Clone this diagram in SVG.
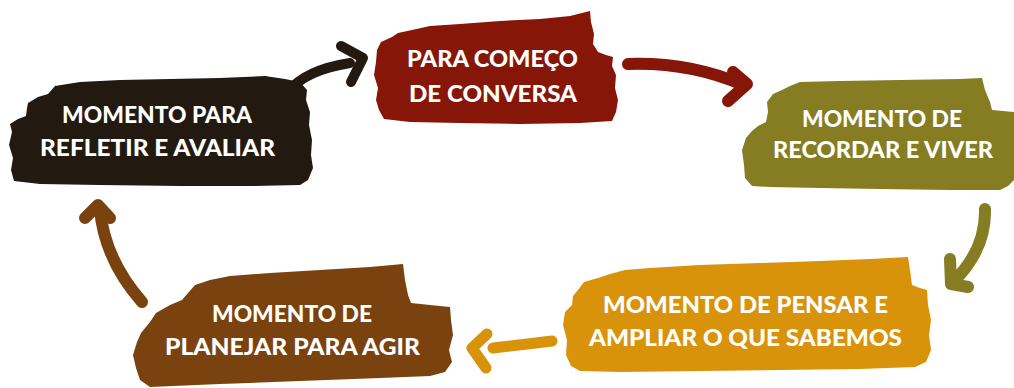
<svg xmlns="http://www.w3.org/2000/svg" width="1014" height="388" viewBox="0 0 1014 388">
<style>
.lbl{font-family:Lato,"Open Sans","Liberation Sans",sans-serif;font-weight:900;font-size:23px;fill:#ffffff;}
.arr{fill:none;stroke-linecap:round;stroke-linejoin:round;}
</style>
<rect width="1014" height="388" fill="#ffffff"/>
<g id="connectors">
  <g stroke="#221a10" class="arr" stroke-width="10">
    <path d="M288,92 Q305,70 350,63"/>
    <path d="M341,46 L363,58 L351,82"/>
  </g>
  <g stroke="#861708" class="arr" stroke-width="12">
    <path d="M628,64 Q690,62 743,85"/>
    <path d="M733,72 L747,84 L728,101"/>
  </g>
  <g stroke="#867c22" class="arr" stroke-width="12">
    <path d="M985,209 Q986,250 953,282"/>
    <path d="M950,259 L951,284 L968,287"/>
  </g>
  <g stroke="#d9930b" class="arr" stroke-width="11">
    <path d="M552,341 Q520,345 493,348"/>
    <path d="M487,334 L472,348 L486,368"/>
  </g>
  <g stroke="#7a420e" class="arr" stroke-width="12">
    <path d="M142,302 Q105,260 100,210"/>
    <path d="M85,218 L98,205 L110,218"/>
  </g>
</g>
<g id="node-comeco">
  <path fill="#861708" d="M377,50 L381,42 L392,37 L398,33 L412,30 L430,26 L460,24 L500,21 L540,19 L570,16 L590,11 L591,22 L594,34 L593,44 L598,52 L606,55 L613,57 L612,66 L616,75 L615,88 L618,100 L616,112 L612,121 L580,123 L520,124 L460,123 L410,122 L384,119 L379,110 L376,100 L378,88 L374,75 L376,62 Z"/>
  <text class="lbl" x="407" y="67" textLength="171" lengthAdjust="spacingAndGlyphs">PARA COMEÇO</text>
  <text class="lbl" x="409" y="102" textLength="168" lengthAdjust="spacingAndGlyphs">DE CONVERSA</text>
</g>
<g id="node-refletir">
  <path fill="#221a10" d="M28,103 L38,97 L48,94 L55,86 L80,82 L120,80 L170,79 L220,78 L265,76 L285,79 L300,82 L307,90 L306,100 L310,112 L309,125 L312,140 L311,155 L313,168 L308,180 L300,185 L250,186 L180,186 L100,185 L40,184 L14,181 L11,170 L13,158 L9,145 L12,132 L10,124 L18,119 L26,116 L27,108 Z"/>
  <text class="lbl" x="62" y="123" textLength="190" lengthAdjust="spacingAndGlyphs">MOMENTO PARA</text>
  <text class="lbl" x="40" y="156" textLength="235" lengthAdjust="spacingAndGlyphs">REFLETIR E AVALIAR</text>
</g>
<g id="node-recordar">
  <path fill="#867c22" d="M767,102 L773,94 L782,90 L790,86 L800,82 L840,81 L900,80 L960,79 L982,78 L985,90 L990,102 L992,110 L1014,112 L1014,180 L1008,186 L1000,190 L950,190 L880,189 L820,188 L770,187 L752,186 L745,178 L744,165 L742,150 L746,138 L752,131 L758,126 L766,122 L768,112 Z"/>
  <text class="lbl" x="802" y="127" textLength="160" lengthAdjust="spacingAndGlyphs">MOMENTO DE</text>
  <text class="lbl" x="773" y="158" textLength="220" lengthAdjust="spacingAndGlyphs">RECORDAR E VIVER</text>
</g>
<g id="node-pensar">
  <path fill="#d9930b" d="M578,290 L584,282 L598,278 L610,274 L625,270 L650,268 L700,265 L760,263 L820,261 L870,259 L908,257 L910,270 L912,285 L920,288 L927,290 L928,305 L931,320 L929,335 L931,350 L926,362 L915,367 L860,369 L780,370 L700,371 L620,372 L580,371 L571,366 L566,355 L567,340 L563,325 L565,312 L572,305 L573,296 Z"/>
  <text class="lbl" x="603" y="313" textLength="285" lengthAdjust="spacingAndGlyphs">MOMENTO DE PENSAR E</text>
  <text class="lbl" x="589" y="346" textLength="313" lengthAdjust="spacingAndGlyphs">AMPLIAR O QUE SABEMOS</text>
</g>
<g id="node-planejar">
  <path fill="#7a420e" d="M188,293 L195,285 L210,280 L230,276 L270,273 L320,270 L370,267 L403,264 L405,280 L408,295 L411,303 L430,305 L450,307 L451,320 L453,335 L449,350 L452,362 L445,372 L430,376 L380,378 L300,381 L220,384 L150,387 L140,380 L136,368 L133,355 L137,342 L141,333 L150,322 L156,313 L170,305 L182,300 Z"/>
  <text class="lbl" x="212" y="322" textLength="160" lengthAdjust="spacingAndGlyphs">MOMENTO DE</text>
  <text class="lbl" x="165" y="355" textLength="255" lengthAdjust="spacingAndGlyphs">PLANEJAR PARA AGIR</text>
</g>
</svg>
